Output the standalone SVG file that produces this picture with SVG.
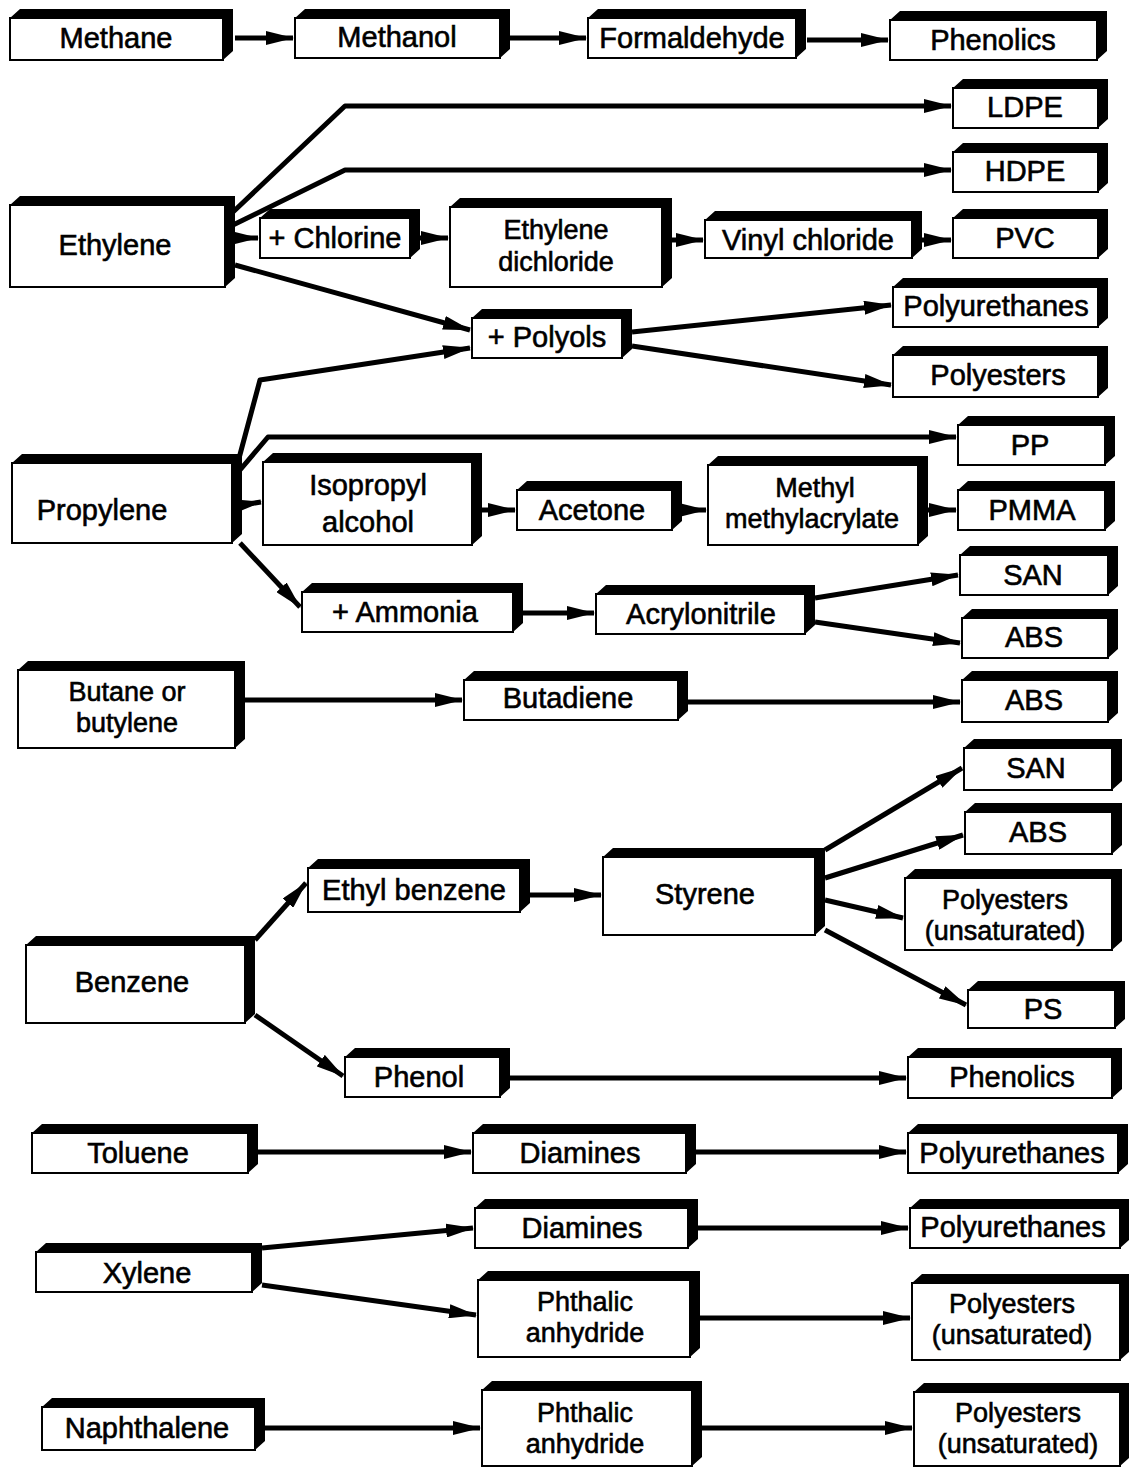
<svg xmlns="http://www.w3.org/2000/svg" width="1129" height="1468" viewBox="0 0 1129 1468">
<style>
.f{fill:#fff;stroke:#000;stroke-width:2}
.s{fill:#000}
text{font-family:"Liberation Sans",Arial,sans-serif;font-size:29px;fill:#000;stroke:#000;stroke-width:0.6;text-anchor:middle;dominant-baseline:central}
text.t2{font-size:27px}
.c{fill:none;stroke:#000;stroke-width:5;stroke-linejoin:round;marker-end:url(#ah)}
</style>
<defs>
<marker id="ah" viewBox="0 0 28 14" refX="27" refY="7" markerWidth="28" markerHeight="14" markerUnits="userSpaceOnUse" orient="auto">
<path d="M0,0 L28,7 L0,14 z" fill="#000"/>
</marker>
</defs>
<rect width="1129" height="1468" fill="#fff"/>
<g id="connectors">
<path class="c" d="M235,38 H293"/>
<path class="c" d="M510,38 H586"/>
<path class="c" d="M807,40 H888"/>
<path class="c" d="M233,212 L345,106 H951"/>
<path class="c" d="M233,225 L345,170 H951"/>
<path class="c" d="M235,238 H258"/>
<path class="c" d="M420,238 H448"/>
<path class="c" d="M672,240 H703"/>
<path class="c" d="M922,240 H951"/>
<path class="c" d="M235,265 L470,330"/>
<path class="c" d="M238,462 L260,380 L470,348"/>
<path class="c" d="M632,332 L891,305"/>
<path class="c" d="M632,346 L891,385"/>
<path class="c" d="M240,470 L268,437 H956"/>
<path class="c" d="M242,505 L261,502"/>
<path class="c" d="M482,510 H515"/>
<path class="c" d="M682,510 H706"/>
<path class="c" d="M928,510 H956"/>
<path class="c" d="M240,543 L300,607"/>
<path class="c" d="M523,613 H594"/>
<path class="c" d="M815,598 L958,575"/>
<path class="c" d="M815,622 L960,643"/>
<path class="c" d="M245,700 H462"/>
<path class="c" d="M688,702 H960"/>
<path class="c" d="M255,940 L306,883"/>
<path class="c" d="M530,895 H601"/>
<path class="c" d="M825,850 L962,768"/>
<path class="c" d="M825,878 L963,835"/>
<path class="c" d="M825,900 L903,918"/>
<path class="c" d="M825,930 L966,1005"/>
<path class="c" d="M255,1015 L343,1076"/>
<path class="c" d="M510,1078 H906"/>
<path class="c" d="M258,1152 H471"/>
<path class="c" d="M696,1152 H906"/>
<path class="c" d="M262,1248 L473,1228"/>
<path class="c" d="M262,1285 L476,1315"/>
<path class="c" d="M698,1228 H908"/>
<path class="c" d="M700,1318 H910"/>
<path class="c" d="M265,1428 H480"/>
<path class="c" d="M702,1428 H912"/>
</g>
<g id="methane"><path class="s" d="M10,18 l10,-9 h213 v42 l-10,9 V18 z"/><rect class="f" x="10" y="18" width="213" height="42"/><text x="116" y="38">Methane</text></g>
<g id="methanol"><path class="s" d="M295,18 l10,-9 h205 v40 l-10,9 V18 z"/><rect class="f" x="295" y="18" width="205" height="40"/><text x="397" y="37">Methanol</text></g>
<g id="formaldehyde"><path class="s" d="M588,18 l10,-9 h208 v40 l-10,9 V18 z"/><rect class="f" x="588" y="18" width="208" height="40"/><text x="692" y="38">Formaldehyde</text></g>
<g id="phenolics1"><path class="s" d="M890,20 l10,-9 h207 v40 l-10,9 V20 z"/><rect class="f" x="890" y="20" width="207" height="40"/><text x="993" y="40">Phenolics</text></g>
<g id="ldpe"><path class="s" d="M953,88 l10,-9 h145 v40 l-10,9 V88 z"/><rect class="f" x="953" y="88" width="145" height="40"/><text x="1025" y="107">LDPE</text></g>
<g id="hdpe"><path class="s" d="M953,152 l10,-9 h145 v40 l-10,9 V152 z"/><rect class="f" x="953" y="152" width="145" height="40"/><text x="1025" y="171">HDPE</text></g>
<g id="ethylene"><path class="s" d="M10,205 l10,-9 h215 v82 l-10,9 V205 z"/><rect class="f" x="10" y="205" width="215" height="82"/><text x="115" y="245">Ethylene</text></g>
<g id="chlorine"><path class="s" d="M260,218 l10,-9 h150 v40 l-10,9 V218 z"/><rect class="f" x="260" y="218" width="150" height="40"/><text x="335" y="238">+ Chlorine</text></g>
<g id="ethylene-dichloride"><path class="s" d="M450,207 l10,-9 h212 v80 l-10,9 V207 z"/><rect class="f" x="450" y="207" width="212" height="80"/><text class="t2" x="556" y="230">Ethylene</text><text class="t2" x="556" y="262">dichloride</text></g>
<g id="vinyl-chloride"><path class="s" d="M705,220 l10,-9 h207 v38 l-10,9 V220 z"/><rect class="f" x="705" y="220" width="207" height="38"/><text x="808" y="240">Vinyl chloride</text></g>
<g id="pvc"><path class="s" d="M953,218 l10,-9 h145 v40 l-10,9 V218 z"/><rect class="f" x="953" y="218" width="145" height="40"/><text x="1025" y="238">PVC</text></g>
<g id="polyols"><path class="s" d="M472,318 l10,-9 h150 v40 l-10,9 V318 z"/><rect class="f" x="472" y="318" width="150" height="40"/><text x="547" y="337">+ Polyols</text></g>
<g id="polyurethanes1"><path class="s" d="M893,287 l10,-9 h205 v40 l-10,9 V287 z"/><rect class="f" x="893" y="287" width="205" height="40"/><text x="996" y="306">Polyurethanes</text></g>
<g id="polyesters1"><path class="s" d="M893,355 l10,-9 h205 v42 l-10,9 V355 z"/><rect class="f" x="893" y="355" width="205" height="42"/><text x="998" y="375">Polyesters</text></g>
<g id="pp"><path class="s" d="M958,425 l10,-9 h147 v40 l-10,9 V425 z"/><rect class="f" x="958" y="425" width="147" height="40"/><text x="1030" y="445">PP</text></g>
<g id="propylene"><path class="s" d="M12,463 l10,-9 h220 v80 l-10,9 V463 z"/><rect class="f" x="12" y="463" width="220" height="80"/><text x="102" y="510">Propylene</text></g>
<g id="isopropyl-alcohol"><path class="s" d="M263,462 l10,-9 h209 v83 l-10,9 V462 z"/><rect class="f" x="263" y="462" width="209" height="83"/><text x="368" y="485">Isopropyl</text><text x="368" y="522">alcohol</text></g>
<g id="acetone"><path class="s" d="M517,490 l10,-9 h155 v40 l-10,9 V490 z"/><rect class="f" x="517" y="490" width="155" height="40"/><text x="592" y="510">Acetone</text></g>
<g id="methyl-methylacrylate"><path class="s" d="M708,465 l10,-9 h210 v80 l-10,9 V465 z"/><rect class="f" x="708" y="465" width="210" height="80"/><text class="t2" x="815" y="488">Methyl</text><text class="t2" x="812" y="519">methylacrylate</text></g>
<g id="pmma"><path class="s" d="M958,490 l10,-9 h147 v40 l-10,9 V490 z"/><rect class="f" x="958" y="490" width="147" height="40"/><text x="1032" y="510">PMMA</text></g>
<g id="san1"><path class="s" d="M960,555 l10,-9 h148 v40 l-10,9 V555 z"/><rect class="f" x="960" y="555" width="148" height="40"/><text x="1033" y="575">SAN</text></g>
<g id="abs1"><path class="s" d="M962,618 l10,-9 h146 v40 l-10,9 V618 z"/><rect class="f" x="962" y="618" width="146" height="40"/><text x="1034" y="637">ABS</text></g>
<g id="ammonia"><path class="s" d="M302,592 l10,-9 h211 v40 l-10,9 V592 z"/><rect class="f" x="302" y="592" width="211" height="40"/><text x="405" y="612">+ Ammonia</text></g>
<g id="acrylonitrile"><path class="s" d="M596,594 l10,-9 h209 v40 l-10,9 V594 z"/><rect class="f" x="596" y="594" width="209" height="40"/><text x="701" y="614">Acrylonitrile</text></g>
<g id="butane"><path class="s" d="M18,670 l10,-9 h217 v78 l-10,9 V670 z"/><rect class="f" x="18" y="670" width="217" height="78"/><text class="t2" x="127" y="692">Butane or</text><text class="t2" x="127" y="723">butylene</text></g>
<g id="butadiene"><path class="s" d="M464,680 l10,-9 h214 v40 l-10,9 V680 z"/><rect class="f" x="464" y="680" width="214" height="40"/><text x="568" y="698">Butadiene</text></g>
<g id="abs2"><path class="s" d="M962,680 l10,-9 h146 v42 l-10,9 V680 z"/><rect class="f" x="962" y="680" width="146" height="42"/><text x="1034" y="700">ABS</text></g>
<g id="san2"><path class="s" d="M964,748 l10,-9 h148 v42 l-10,9 V748 z"/><rect class="f" x="964" y="748" width="148" height="42"/><text x="1036" y="768">SAN</text></g>
<g id="abs3"><path class="s" d="M965,812 l10,-9 h147 v42 l-10,9 V812 z"/><rect class="f" x="965" y="812" width="147" height="42"/><text x="1038" y="832">ABS</text></g>
<g id="ethyl-benzene"><path class="s" d="M308,868 l10,-9 h212 v44 l-10,9 V868 z"/><rect class="f" x="308" y="868" width="212" height="44"/><text x="414" y="890">Ethyl benzene</text></g>
<g id="styrene"><path class="s" d="M603,857 l10,-9 h212 v78 l-10,9 V857 z"/><rect class="f" x="603" y="857" width="212" height="78"/><text x="705" y="894">Styrene</text></g>
<g id="polyesters2"><path class="s" d="M905,878 l10,-9 h207 v72 l-10,9 V878 z"/><rect class="f" x="905" y="878" width="207" height="72"/><text class="t2" x="1005" y="900">Polyesters</text><text class="t2" x="1005" y="931">(unsaturated)</text></g>
<g id="benzene"><path class="s" d="M26,945 l10,-9 h219 v78 l-10,9 V945 z"/><rect class="f" x="26" y="945" width="219" height="78"/><text x="132" y="982">Benzene</text></g>
<g id="ps"><path class="s" d="M968,990 l10,-9 h147 v38 l-10,9 V990 z"/><rect class="f" x="968" y="990" width="147" height="38"/><text x="1043" y="1009">PS</text></g>
<g id="phenol"><path class="s" d="M345,1057 l10,-9 h155 v40 l-10,9 V1057 z"/><rect class="f" x="345" y="1057" width="155" height="40"/><text x="419" y="1077">Phenol</text></g>
<g id="phenolics2"><path class="s" d="M908,1057 l10,-9 h204 v41 l-10,9 V1057 z"/><rect class="f" x="908" y="1057" width="204" height="41"/><text x="1012" y="1077">Phenolics</text></g>
<g id="toluene"><path class="s" d="M32,1133 l10,-9 h216 v40 l-10,9 V1133 z"/><rect class="f" x="32" y="1133" width="216" height="40"/><text x="138" y="1153">Toluene</text></g>
<g id="diamines1"><path class="s" d="M473,1133 l10,-9 h213 v40 l-10,9 V1133 z"/><rect class="f" x="473" y="1133" width="213" height="40"/><text x="580" y="1153">Diamines</text></g>
<g id="polyurethanes2"><path class="s" d="M908,1133 l10,-9 h210 v40 l-10,9 V1133 z"/><rect class="f" x="908" y="1133" width="210" height="40"/><text x="1012" y="1153">Polyurethanes</text></g>
<g id="diamines2"><path class="s" d="M475,1208 l10,-9 h213 v40 l-10,9 V1208 z"/><rect class="f" x="475" y="1208" width="213" height="40"/><text x="582" y="1228">Diamines</text></g>
<g id="polyurethanes3"><path class="s" d="M910,1208 l10,-9 h210 v40 l-10,9 V1208 z"/><rect class="f" x="910" y="1208" width="210" height="40"/><text x="1013" y="1227">Polyurethanes</text></g>
<g id="xylene"><path class="s" d="M36,1252 l10,-9 h216 v40 l-10,9 V1252 z"/><rect class="f" x="36" y="1252" width="216" height="40"/><text x="147" y="1273">Xylene</text></g>
<g id="phthalic1"><path class="s" d="M478,1280 l10,-9 h212 v77 l-10,9 V1280 z"/><rect class="f" x="478" y="1280" width="212" height="77"/><text class="t2" x="585" y="1302">Phthalic</text><text class="t2" x="585" y="1333">anhydride</text></g>
<g id="polyesters3"><path class="s" d="M912,1283 l10,-9 h208 v77 l-10,9 V1283 z"/><rect class="f" x="912" y="1283" width="208" height="77"/><text class="t2" x="1012" y="1304">Polyesters</text><text class="t2" x="1012" y="1335">(unsaturated)</text></g>
<g id="naphthalene"><path class="s" d="M42,1407 l10,-9 h213 v43 l-10,9 V1407 z"/><rect class="f" x="42" y="1407" width="213" height="43"/><text x="147" y="1428">Naphthalene</text></g>
<g id="phthalic2"><path class="s" d="M482,1390 l10,-9 h210 v76 l-10,9 V1390 z"/><rect class="f" x="482" y="1390" width="210" height="76"/><text class="t2" x="585" y="1413">Phthalic</text><text class="t2" x="585" y="1444">anhydride</text></g>
<g id="polyesters4"><path class="s" d="M914,1392 l10,-9 h206 v74 l-10,9 V1392 z"/><rect class="f" x="914" y="1392" width="206" height="74"/><text class="t2" x="1018" y="1413">Polyesters</text><text class="t2" x="1018" y="1444">(unsaturated)</text></g>
</svg>
